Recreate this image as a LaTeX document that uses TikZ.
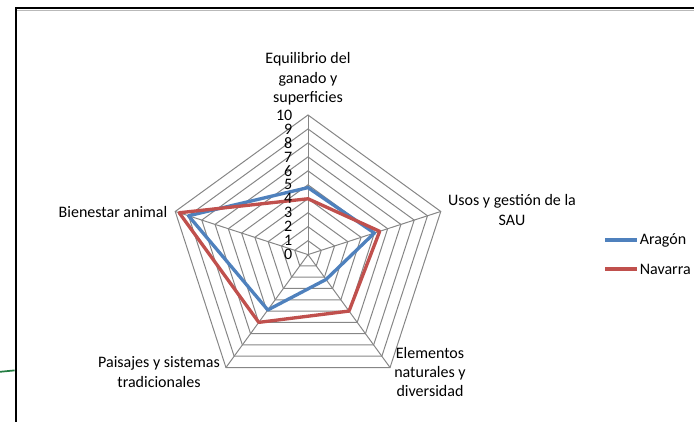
\documentclass[tikz,border=0pt]{standalone}
\usepackage{fontspec}
\setmainfont{Carlito}
\definecolor{serA}{RGB}{79,129,189}
\definecolor{serN}{RGB}{192,80,77}
\definecolor{gridc}{RGB}{134,134,134}
\definecolor{conn}{RGB}{36,125,66}
\begin{document}
\begin{tikzpicture}[x=0.75pt,y=-0.75pt,
  lbl/.style={font=\fontsize{12}{14.6}\selectfont, align=center, inner sep=0pt},
  gridline/.style={draw=gridc, line width=0.75pt, line join=miter},
  seriesA/.style={draw=serA, line width=2.5pt, line join=round},
  seriesN/.style={draw=serN, line width=2.5pt, line join=round}]
\useasboundingbox (0,0) rectangle (694,422);
\clip (0,0) rectangle (694,422);
% frame
\draw[gray!55, line width=0.75pt] (17,10.2) -- (700,10.2);
\draw[black, line width=1.5pt] (15.5,430) -- (15.5,8) -- (700,8);
% green connector stub
\coordinate (g0) at (0,371.8);
\coordinate (g1) at (14.6,370.4);
\draw[conn, line width=1.3pt] (g0) -- (g1);
% radar
\begin{scope}[shift={(308,254.6)}, yscale=-1]
  \foreach \r in {1,...,10}
    \draw[gridline] (90:{13.96*\r}) -- (18:{13.96*\r}) -- (-54:{13.96*\r}) -- (-126:{13.96*\r}) -- (162:{13.96*\r}) -- cycle;
  \foreach \a in {90,18,-54,-126,162}
    \draw[gridline] (0,0) -- (\a:139.6);
  \draw[seriesA] (90:{13.96*4.8}) -- (18:{13.96*5.0}) -- (-54:{13.96*2.2}) -- (-126:{13.96*4.9}) -- (162:{13.96*9.0}) -- cycle;
  \draw[seriesN] (90:{13.96*4.0}) -- (18:{13.96*5.4}) -- (-54:{13.96*5.0}) -- (-126:{13.96*6.0}) -- (162:{13.96*9.7}) -- cycle;
\end{scope}
% axis values
\foreach \v in {0,...,10}
  \node[lbl, anchor=east] (v\v) at (292.5,{254.6-13.96*\v}) {\v};
% category labels
\node[lbl] (c1) at (308,79) {Equilibrio del\\ganado y\\superficies};
\node[lbl] (c2) at (512,210) {Usos y gestión de la\\SAU};
\node[lbl] (c3) at (430,372) {Elementos\\naturales y\\diversidad};
\node[lbl] (c4) at (159,372) {Paisajes y sistemas\\tradicionales};
\node[lbl] (c5) at (113,212) {Bienestar animal};
% legend
\coordinate (la0) at (605,240);
\coordinate (la1) at (637,240);
\coordinate (ln0) at (605,269);
\coordinate (ln1) at (637,269);
\draw[seriesA] (la0) -- (la1);
\draw[seriesN] (ln0) -- (ln1);
\node[lbl, anchor=west] (lA) at (639.5,240) {Aragón};
\node[lbl, anchor=west] (lN) at (639.5,269) {Navarra};
\end{tikzpicture}
\end{document}
